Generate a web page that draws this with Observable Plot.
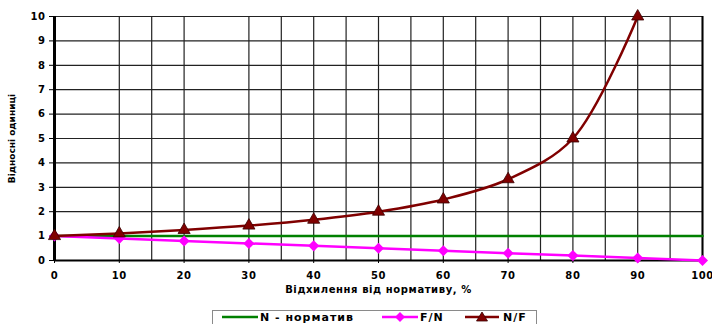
<!DOCTYPE html>
<html>
<head>
<meta charset="utf-8">
<script src="https://cdn.jsdelivr.net/npm/d3@7"></script>
<script src="https://cdn.jsdelivr.net/npm/@observablehq/plot@0.6"></script>
<style>
  html, body { margin: 0; padding: 0; background: #fff; }
  #wrap { position: relative; width: 712px; height: 324px; overflow: hidden; background: #fff; }
  #wrap svg text { letter-spacing: 0.6px; }
  #wrap svg text.ytitle { letter-spacing: 0; }
  #legend {
    position: absolute; left: 212px; top: 310px; width: 325px; height: 20px;
    border: 1px solid #8a8a8a; box-sizing: border-box; background: #fff;
    font: bold 11px "DejaVu Sans", sans-serif; letter-spacing: 1px; color: #000;
  }
  #legend .item { position: absolute; top: 0; height: 12px; display: flex; align-items: center; }
  #legend svg { display: block; }
</style>
</head>
<body>
<div id="wrap">
  <div id="chart"></div>
  <div id="legend"></div>
</div>
<script>
// Deviation from the norm, % (x) and the three relative series
const deviation = [0, 10, 20, 30, 40, 50, 60, 70, 80, 90, 100];
const normative = [1, 1, 1, 1, 1, 1, 1, 1, 1, 1, 1];
const factToNorm = [1, 0.9, 0.8, 0.7, 0.6, 0.5, 0.4, 0.3, 0.2, 0.1, 0];
const normToFact = [1, 1.11, 1.25, 1.43, 1.67, 2, 2.5, 3.33, 5, 10];

// Axis ticks and grid positions
const xTicks = [0, 10, 20, 30, 40, 50, 60, 70, 80, 90, 100];
const yTicks = [0, 1, 2, 3, 4, 5, 6, 7, 8, 9, 10];
const xGrid = [10, 15, 20, 30, 35, 40, 45, 50, 55, 60, 65, 70, 75, 80, 85, 90, 95, 100];
const yGrid = [1, 2, 3, 4, 5, 6, 7, 8, 9, 10];

// Series names and colours
const seriesNames = ["N - норматив", "F/N", "N/F"];
const colorNorm = "#008000";
const colorFN = "#ff00ff";
const colorNF = "#800000";

const rows = (vals) => vals.map((v, i) => ({x: deviation[i], y: v}));

const chart = Plot.plot({
  width: 712,
  height: 300,
  marginLeft: 54,
  marginRight: 10,
  marginTop: 16,
  marginBottom: 40,
  x: {domain: [0, 100]},
  y: {domain: [0, 10]},
  style: {
    fontFamily: "DejaVu Sans, sans-serif",
    fontWeight: "bold",
    fontSize: "10px",
    color: "#000",
    background: "#fff"
  },
  marks: [
    Plot.ruleX(xGrid, {stroke: "#222", strokeWidth: 1.2}),
    Plot.ruleY(yGrid, {stroke: "#222", strokeWidth: 1.2}),
    Plot.ruleX([100], {stroke: "#000", strokeWidth: 2}),
    Plot.ruleY([0], {stroke: "#000", strokeWidth: 2}),
    Plot.ruleX([0], {stroke: "#000", strokeWidth: 3}),
    Plot.axisY(yTicks, {tickSize: 5, tickPadding: 4, label: null, fontWeight: "bold"}),
    Plot.axisX(xTicks, {tickSize: 3, tickPadding: 8, label: null, fontWeight: "bold"}),
    Plot.text(["Відхилення від нормативу, %"], {
      frameAnchor: "bottom", dy: 32, fontSize: 10, fontWeight: "bold"
    }),
    Plot.text(["Відносні одиниці"], {
      frameAnchor: "left", textAnchor: "middle", dx: -42, rotate: -90,
      fontSize: 9, fontWeight: "bold", className: "ytitle"
    }),
    Plot.line(rows(normative), {x: "x", y: "y", stroke: colorNorm, strokeWidth: 2.5}),
    Plot.line(rows(factToNorm), {x: "x", y: "y", stroke: colorFN, strokeWidth: 2.5}),
    Plot.dot(rows(factToNorm), {x: "x", y: "y", symbol: "square", rotate: 45, r: 4.4, fill: colorFN}),
    Plot.line(rows(normToFact), {x: "x", y: "y", curve: "catmull-rom", stroke: colorNF, strokeWidth: 2.5}),
    Plot.dot(rows(normToFact), {
      x: "x", y: "y", symbol: "triangle", r: 4.5, fill: colorNF, stroke: "#3a0000", strokeWidth: 0.8
    })
  ]
});
document.getElementById("chart").appendChild(chart);
d3.select(chart).selectAll("g[aria-label='text'] text")
  .filter(function () { return this.textContent === "Відносні одиниці"; })
  .style("letter-spacing", "0px");

// Legend: line swatches with markers, then series names
const legend = d3.select("#legend");
const items = [
  {name: seriesNames[0], color: colorNorm, marker: null, left: 9, sw: 36, text: 47},
  {name: seriesNames[1], color: colorFN, marker: "diamond", left: 169, sw: 36, text: 207},
  {name: seriesNames[2], color: colorNF, marker: "triangle", left: 252, sw: 34, text: 290}
];
items.forEach((it) => {
  const g = legend.append("div").attr("class", "item").style("left", it.left + "px").style("top", "0px").style("height", "12px");
  const svg = g.append("svg").attr("width", it.sw).attr("height", 12);
  svg.append("line").attr("x1", 0).attr("x2", it.sw).attr("y1", 6).attr("y2", 6)
    .attr("stroke", it.color).attr("stroke-width", 2.5);
  const cx = it.sw / 2;
  if (it.marker === "diamond") {
    svg.append("path").attr("d", `M${cx},1L${cx + 5},6L${cx},11L${cx - 5},6Z`).attr("fill", it.color);
  } else if (it.marker === "triangle") {
    svg.append("path").attr("d", `M${cx},1L${cx + 5.5},10L${cx - 5.5},10Z`).attr("fill", it.color).attr("stroke", "#3a0000").attr("stroke-width", 0.8);
  }
  legend.append("div").attr("class", "item").style("left", it.text + "px").style("top", "0px").style("height", "12px").text(it.name);
});
</script>
</body>
</html>
